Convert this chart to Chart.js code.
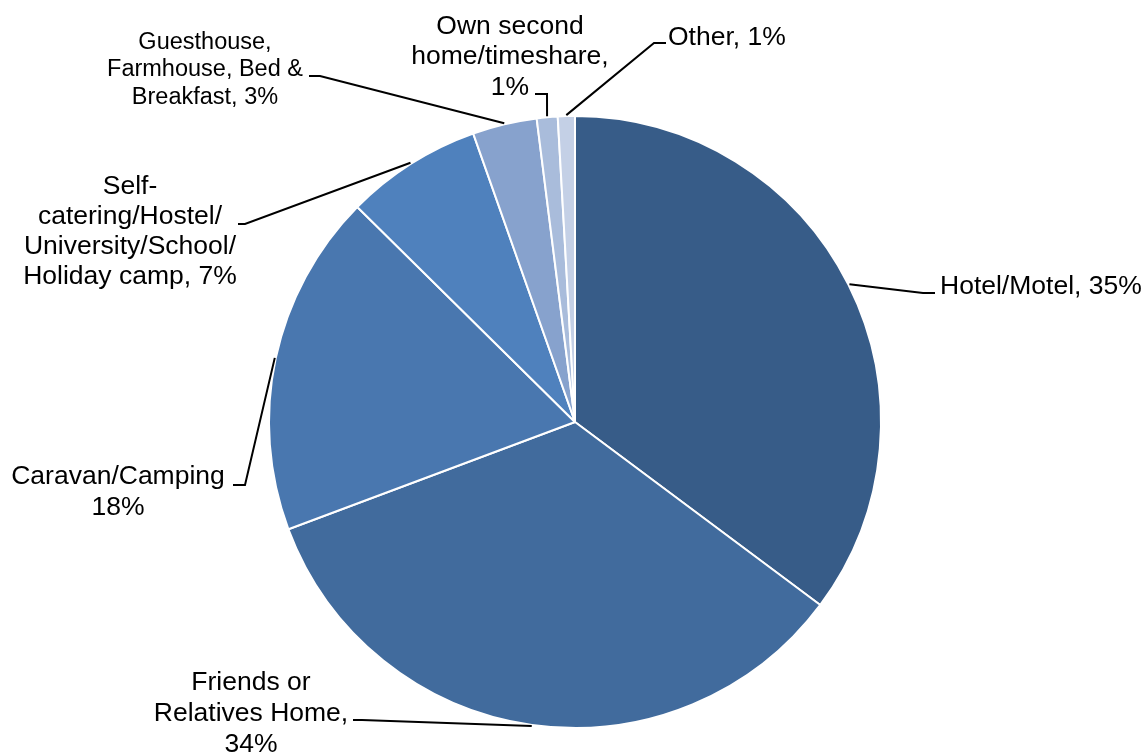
<!DOCTYPE html>
<html>
<head>
<meta charset="utf-8">
<script src="https://cdn.jsdelivr.net/npm/chart.js@4"></script>
<style>
  body { margin: 0; background: #ffffff; }
  #wrap { width: 1147px; height: 754px; }
</style>
</head>
<body>
<div id="wrap"><canvas id="pieChart" width="1147" height="754"></canvas></div>
<script>
// dados
const categories = ['Hotel/Motel', 'Friends or Relatives Home', 'Caravan/Camping',
  'Self-catering/Hostel/University/School/Holiday camp', 'Guesthouse, Farmhouse, Bed & Breakfast',
  'Own second home/timeshare', 'Other'];
const shares = [35.2, 34.1, 18.1, 7.2, 3.4, 1.1, 0.9];
const sliceColors = ['#375c88', '#416b9d', '#4977af', '#4f81bd', '#87a2cd', '#a9bcdb', '#c4d0e6'];

// layout dos rotulos (texto quebrado, posicao e linha guia)
const labelLayout = [
  { lines: ['Hotel/Motel, {p}'], x: 940, y: 287, align: 'left', size: 26.5, lh: 31, elbow: [923, 293], end: [935, 293] },
  { lines: ['Friends or', 'Relatives Home,', '{p}'], x: 251, y: 714, align: 'center', size: 26.5, lh: 31, elbow: [362, 720], end: [353, 720] },
  { lines: ['Caravan/Camping', '{p}'], x: 118, y: 492, align: 'center', size: 26.5, lh: 31, elbow: [245, 485], end: [233, 485] },
  { lines: ['Self-', 'catering/Hostel/', 'University/School/', 'Holiday camp, {p}'], x: 130, y: 232, align: 'center', size: 26.5, lh: 30, elbow: [245, 224], end: [238, 224] },
  { lines: ['Guesthouse,', 'Farmhouse, Bed &', 'Breakfast, {p}'], x: 205, y: 70, align: 'center', size: 23.5, lh: 27.5, elbow: [320, 76], end: [309, 76] },
  { lines: ['Own second', 'home/timeshare,', '{p}'], x: 510, y: 57, align: 'center', size: 26.5, lh: 30.5, elbow: [547, 94], end: [535, 94] },
  { lines: ['Other, {p}'], x: 668, y: 38, align: 'left', size: 26.5, lh: 31, elbow: [654, 43], end: [666, 43] }
];

const total = shares.reduce((acc, v) => acc + v, 0);

// plugin para rotulos externos com linha guia
const outsideLabels = {
  id: 'outsideLabels',
  afterDatasetsDraw(chart) {
    const ctx = chart.ctx;
    const arcs = chart.getDatasetMeta(0).data;

    arcs.forEach((arc, i) => {
      const lay = labelLayout[i];
      const mid = (arc.startAngle + arc.endAngle) / 2;
      const r = arc.outerRadius + 1;
      const sx = arc.x + Math.cos(mid) * r;
      const sy = arc.y + Math.sin(mid) * r;

      // linha guia
      ctx.save();
      ctx.strokeStyle = '#000000';
      ctx.lineWidth = 2;
      ctx.beginPath();
      ctx.moveTo(sx, sy);
      ctx.lineTo(lay.elbow[0], lay.elbow[1]);
      ctx.lineTo(lay.end[0], lay.end[1]);
      ctx.stroke();

      // texto
      const pct = Math.round(shares[i] / total * 100) + '%';
      ctx.fillStyle = '#000000';
      ctx.font = lay.size + 'px "Liberation Sans", Arial, sans-serif';
      ctx.textAlign = lay.align;
      ctx.textBaseline = 'middle';
      const top = lay.y - (lay.lines.length - 1) * lay.lh / 2;
      lay.lines.forEach((ln, k) => {
        ctx.fillText(ln.replace('{p}', pct), lay.x, top + k * lay.lh);
      });
      ctx.restore();
    });
  }
};

const pieChart = new Chart(document.getElementById('pieChart'), {
  type: 'pie',
  data: {
    labels: categories,
    datasets: [{
      data: shares,
      backgroundColor: sliceColors,
      borderColor: '#ffffff',
      borderWidth: 2
    }]
  },
  options: {
    responsive: false,
    animation: false,
    layout: { padding: { top: 115, bottom: 25, left: 268, right: 265 } },
    plugins: {
      legend: { display: false },
      tooltip: { enabled: false }
    }
  },
  plugins: [outsideLabels]
});
</script>
</body>
</html>
